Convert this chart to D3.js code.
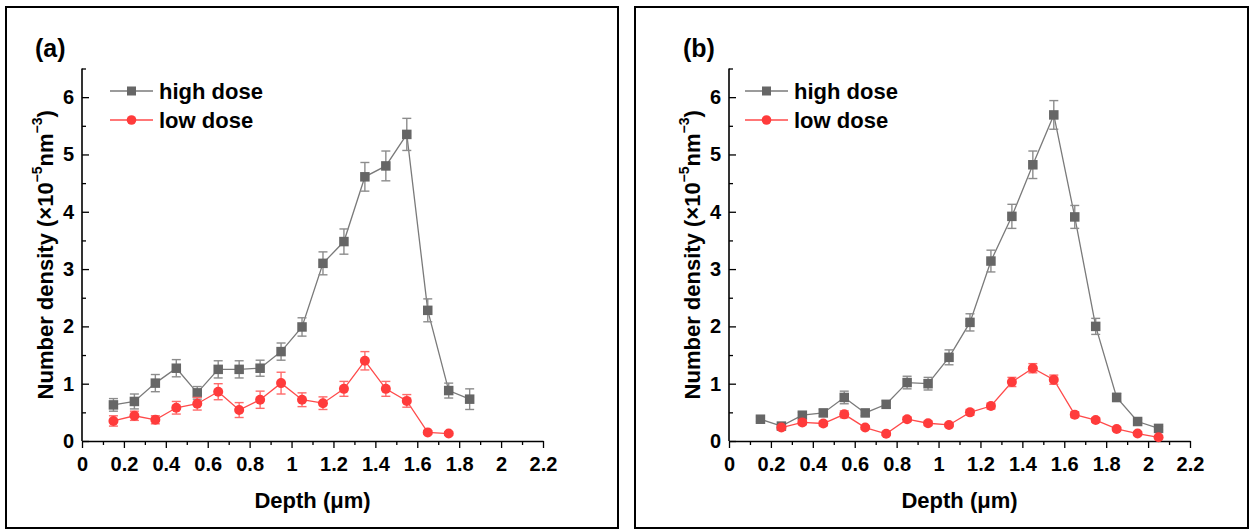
<!DOCTYPE html>
<html>
<head>
<meta charset="utf-8">
<script src="https://cdn.jsdelivr.net/npm/d3@7"></script>
<style>
  html, body { margin: 0; padding: 0; background: #fff; }
  svg { display: block; }
  text { font-family: "Liberation Sans", Arial, sans-serif; font-weight: bold; fill: #000; }
</style>
</head>
<body>
<svg id="chart" width="1250" height="530"></svg>
<script>
// Depth bins (µm)
const depthA_high = [0.15, 0.25, 0.35, 0.45, 0.55, 0.65, 0.75, 0.85, 0.95, 1.05, 1.15, 1.25, 1.35, 1.45, 1.55, 1.65, 1.75, 1.85];
const depthA_low  = [0.15, 0.25, 0.35, 0.45, 0.55, 0.65, 0.75, 0.85, 0.95, 1.05, 1.15, 1.25, 1.35, 1.45, 1.55, 1.65, 1.75];
const depthB_high = [0.15, 0.25, 0.35, 0.45, 0.55, 0.65, 0.75, 0.85, 0.95, 1.05, 1.15, 1.25, 1.35, 1.45, 1.55, 1.65, 1.75, 1.85, 1.95, 2.05];
const depthB_low  = [0.25, 0.35, 0.45, 0.55, 0.65, 0.75, 0.85, 0.95, 1.05, 1.15, 1.25, 1.35, 1.45, 1.55, 1.65, 1.75, 1.85, 1.95, 2.05];

// Number density (×10^-5 nm^-3) and errors, panel (a)
const highA    = [0.63, 0.69, 1.01, 1.27, 0.84, 1.25, 1.25, 1.27, 1.56, 1.99, 3.10, 3.48, 4.61, 4.80, 5.35, 2.28, 0.88, 0.73];
const highAErr = [0.11, 0.13, 0.15, 0.15, 0.11, 0.15, 0.15, 0.14, 0.15, 0.16, 0.20, 0.22, 0.25, 0.26, 0.28, 0.20, 0.13, 0.18];
const lowA     = [0.35, 0.44, 0.37, 0.58, 0.65, 0.86, 0.54, 0.72, 1.01, 0.72, 0.66, 0.91, 1.40, 0.91, 0.70, 0.15, 0.13];
const lowAErr  = [0.09, 0.08, 0.07, 0.11, 0.11, 0.14, 0.13, 0.15, 0.19, 0.12, 0.11, 0.13, 0.16, 0.13, 0.11, 0.03, 0.03];

// Number density (×10^-5 nm^-3) and errors, panel (b)
const highB    = [0.38, 0.26, 0.45, 0.49, 0.76, 0.49, 0.64, 1.02, 1.00, 1.46, 2.07, 3.14, 3.92, 4.82, 5.69, 3.91, 2.00, 0.76, 0.34, 0.22];
const highBErr = [0.04, 0.03, 0.05, 0.06, 0.11, 0.05, 0.06, 0.11, 0.11, 0.13, 0.15, 0.19, 0.21, 0.24, 0.25, 0.20, 0.14, 0.07, 0.04, 0.03];
const lowB     = [0.235, 0.325, 0.305, 0.465, 0.235, 0.125, 0.38, 0.31, 0.28, 0.50, 0.61, 1.03, 1.27, 1.07, 0.46, 0.365, 0.21, 0.13, 0.065];
const lowBErr  = [0.03, 0.04, 0.04, 0.06, 0.03, 0.03, 0.04, 0.04, 0.03, 0.05, 0.05, 0.08, 0.08, 0.08, 0.05, 0.04, 0.03, 0.03, 0.02];

// Axis ticks and labels
const xTickLabels = ["0", "0.2", "0.4", "0.6", "0.8", "1", "1.2", "1.4", "1.6", "1.8", "2", "2.2"];
const xMinorTicks = [0.1, 0.3, 0.5, 0.7, 0.9, 1.1, 1.3, 1.5, 1.7, 1.9, 2.1];
const yTickLabels = ["0", "1", "2", "3", "4", "5", "6"];
const yMinorTicks = [0.5, 1.5, 2.5, 3.5, 4.5, 5.5, 6.5];
const seriesNames = ["high dose", "low dose"];
const panelLabels = ["(a)", "(b)"];

const xDomain = [0, 2.2];
const yDomain = [0, 6.5];

const GREY = "#666666", GREY_LINE = "#7a7a7a", GREY_ERR = "#8c8c8c";
const RED = "#ff3b3b", RED_LINE = "#ff4a4a", RED_ERR = "#ff6a6a";

const svg = d3.select("#chart");

function drawPanel(cfg) {
  const { frame, plot, label, high, low, legendX } = cfg;

  // panel frame
  svg.append("rect")
    .attr("x", frame.x).attr("y", frame.y)
    .attr("width", frame.w).attr("height", frame.h)
    .attr("fill", "none").attr("stroke", "#000").attr("stroke-width", 2);

  const g = svg.append("g").attr("transform", `translate(${plot.x},${plot.y})`);
  const x = d3.scaleLinear().domain(xDomain).range([0, plot.w]);
  const y = d3.scaleLinear().domain(yDomain).range([plot.h, 0]);

  // minor ticks
  g.append("g").attr("transform", `translate(0,${plot.h})`)
    .call(d3.axisBottom(x).tickValues(xMinorTicks).tickSize(4).tickSizeOuter(0).tickFormat(""))
    .call(a => a.select(".domain").remove())
    .call(a => a.selectAll("line").attr("stroke-width", 1.3));
  g.append("g")
    .call(d3.axisLeft(y).tickValues(yMinorTicks).tickSize(-4).tickSizeOuter(0).tickFormat(""))
    .call(a => a.select(".domain").remove())
    .call(a => a.selectAll("line").attr("stroke-width", 1.3));

  // major axes
  const xAxis = g.append("g").attr("transform", `translate(0,${plot.h})`)
    .call(d3.axisBottom(x).tickValues(xTickLabels.map(Number))
      .tickFormat((d, i) => xTickLabels[i]).tickSize(7).tickSizeOuter(0).tickPadding(9));
  const yAxis = g.append("g")
    .call(d3.axisLeft(y).tickValues(yTickLabels.map(Number))
      .tickFormat((d, i) => yTickLabels[i]).tickSize(-7).tickSizeOuter(0).tickPadding(8));
  [xAxis, yAxis].forEach(a => {
    a.select(".domain").attr("stroke-width", 1.6);
    a.selectAll("line").attr("stroke-width", 1.3);
    a.selectAll("text").attr("font-size", 20).attr("font-family", "Liberation Sans, Arial, sans-serif").attr("font-weight", "bold");
  });
  yAxis.select(".domain").attr("d", `M0,${plot.h}V${y(yDomain[1])}`);

  // axis titles
  g.append("text")
    .attr("x", plot.w / 2).attr("y", plot.h + 67)
    .attr("text-anchor", "middle").attr("font-size", 22)
    .text("Depth (μm)");
  const yt = g.append("text")
    .attr("transform", `translate(-37,${plot.h / 2}) rotate(-90)`)
    .attr("text-anchor", "middle").attr("dominant-baseline", "central").attr("font-size", 22);
  yt.append("tspan").text("Number density (×10");
  yt.append("tspan").attr("font-size", 14).attr("dy", -8).text("−5");
  yt.append("tspan").attr("dy", 8).text("nm");
  yt.append("tspan").attr("font-size", 14).attr("dy", -8).text("−3");
  yt.append("tspan").attr("dy", 8).text(")");

  // panel label
  svg.append("text")
    .attr("x", label.x).attr("y", label.y)
    .attr("font-size", 25).text(label.text);

  const line = d3.line().x(d => x(d[0])).y(d => y(d[1]));

  function series(s, lineColor, errColor, fill, shape) {
    const pts = s.depth.map((d, i) => [d, s.vals[i], s.errs[i]]);
    const sg = g.append("g");
    sg.append("path").datum(pts)
      .attr("d", line).attr("fill", "none")
      .attr("stroke", lineColor).attr("stroke-width", 1.3);
    const eb = sg.selectAll(".err").data(pts).join("g")
      .attr("stroke", errColor).attr("stroke-width", 1.4).attr("fill", "none");
    eb.append("line")
      .attr("x1", d => x(d[0])).attr("x2", d => x(d[0]))
      .attr("y1", d => y(d[1] - d[2])).attr("y2", d => y(d[1] + d[2]));
    eb.append("line")
      .attr("x1", d => x(d[0]) - 4.5).attr("x2", d => x(d[0]) + 4.5)
      .attr("y1", d => y(d[1] + d[2])).attr("y2", d => y(d[1] + d[2]));
    eb.append("line")
      .attr("x1", d => x(d[0]) - 4.5).attr("x2", d => x(d[0]) + 4.5)
      .attr("y1", d => y(d[1] - d[2])).attr("y2", d => y(d[1] - d[2]));
    if (shape === "square") {
      sg.selectAll(".m").data(pts).join("rect")
        .attr("x", d => x(d[0]) - 4.75).attr("y", d => y(d[1]) - 4.75)
        .attr("width", 9.5).attr("height", 9.5).attr("fill", fill);
    } else {
      sg.selectAll(".m").data(pts).join("circle")
        .attr("cx", d => x(d[0])).attr("cy", d => y(d[1]))
        .attr("r", 5).attr("fill", fill);
    }
  }
  series(high, GREY_LINE, GREY_ERR, GREY, "square");
  series(low, RED_LINE, RED_ERR, RED, "circle");

  // legend
  const lg = g.append("g").attr("transform", `translate(${legendX},0)`);
  const items = [
    { name: seriesNames[0], color: GREY_LINE, fill: GREY, shape: "square", yy: 22.5 },
    { name: seriesNames[1], color: RED_LINE, fill: RED, shape: "circle", yy: 51.5 }
  ];
  items.forEach(it => {
    lg.append("line").attr("x1", 0).attr("x2", 43).attr("y1", it.yy).attr("y2", it.yy)
      .attr("stroke", it.color).attr("stroke-width", 1.3);
    if (it.shape === "square") {
      lg.append("rect").attr("x", 21.5 - 4.5).attr("y", it.yy - 4.5)
        .attr("width", 9).attr("height", 9).attr("fill", it.fill);
    } else {
      lg.append("circle").attr("cx", 21.5).attr("cy", it.yy).attr("r", 4.8).attr("fill", it.fill);
    }
    lg.append("text").attr("x", 49).attr("y", it.yy + 7.5)
      .attr("font-size", 22).text(it.name);
  });
}

drawPanel({
  frame: { x: 6, y: 7, w: 612, h: 521 },
  plot: { x: 82, y: 68.5, w: 461, h: 372.5 },
  label: { x: 35, y: 57, text: panelLabels[0] },
  high: { depth: depthA_high, vals: highA, errs: highAErr },
  low: { depth: depthA_low, vals: lowA, errs: lowAErr },
  legendX: 28
});

drawPanel({
  frame: { x: 635, y: 7, w: 613, h: 521 },
  plot: { x: 729, y: 68.5, w: 461, h: 372.5 },
  label: { x: 683, y: 57, text: panelLabels[1] },
  high: { depth: depthB_high, vals: highB, errs: highBErr },
  low: { depth: depthB_low, vals: lowB, errs: lowBErr },
  legendX: 16
});
</script>
</body>
</html>
